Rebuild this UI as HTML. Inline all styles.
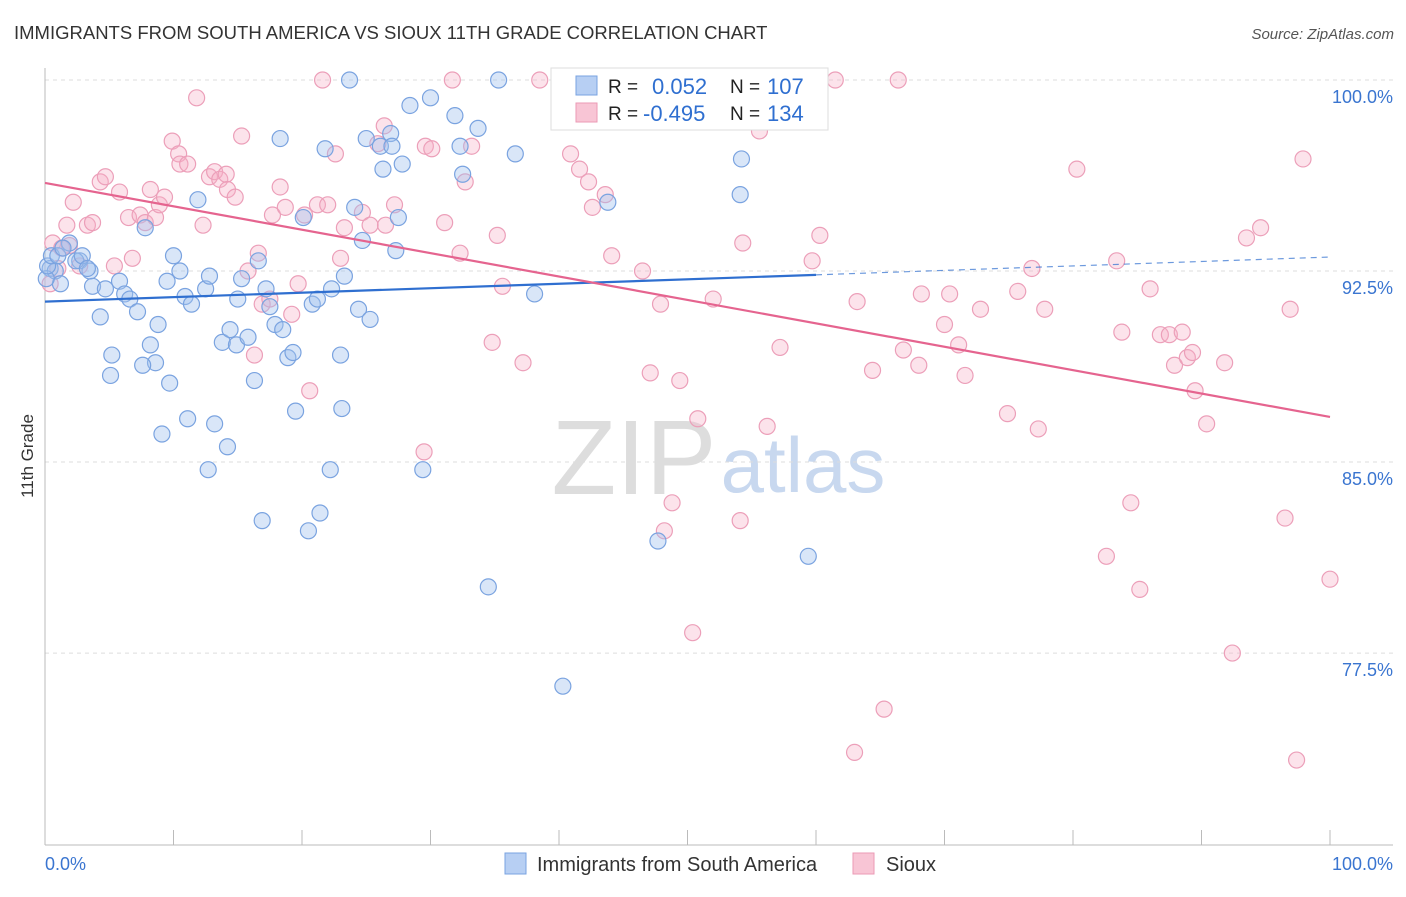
<!DOCTYPE html>
<html><head><meta charset="utf-8"><style>
body{margin:0;background:#fff;font-family:"Liberation Sans",sans-serif;}
svg text{font-family:"Liberation Sans",sans-serif;}
</style></head><body>
<svg id="chart" width="1406" height="892" viewBox="0 0 1406 892">
<text x="14" y="39" font-size="18.5" fill="#333">IMMIGRANTS FROM SOUTH AMERICA VS SIOUX 11TH GRADE CORRELATION CHART</text>
<text x="1394" y="39" font-size="15" fill="#555" font-style="italic" text-anchor="end">Source: ZipAtlas.com</text>
<text transform="translate(33,456) rotate(-90)" font-size="17" fill="#333" text-anchor="middle">11th Grade</text>
<g><text x="634" y="494" font-size="106" font-family="Liberation Serif,serif" fill="#ddd" text-anchor="middle">ZIP</text><text x="803" y="492" font-size="78" fill="#c8d8ef" text-anchor="middle">atlas</text></g>
<g id="grid"></g><g id="axes"></g><g id="pts"></g><g id="trends"></g>
<g>
<rect x="551" y="68" width="277" height="62" fill="#fff" stroke="#ddd"/>
<rect x="576" y="76" width="21" height="19" fill="#b7cff3" stroke="#7aa3e0"/>
<rect x="576" y="103" width="21" height="19" fill="#f8c5d5" stroke="#eb9ab5"/>
<text x="608" y="93" font-size="19" fill="#222">R =</text><text x="652" y="94" font-size="22" fill="#2f6fd0">0.052</text>
<text x="730" y="93" font-size="19" fill="#222">N =</text><text x="767" y="94" font-size="22" fill="#2f6fd0">107</text>
<text x="608" y="120" font-size="19" fill="#222">R =</text><text x="643" y="121" font-size="22" fill="#2f6fd0">-0.495</text>
<text x="730" y="120" font-size="19" fill="#222">N =</text><text x="767" y="121" font-size="22" fill="#2f6fd0">134</text>
</g>
<g>
<rect x="505" y="853" width="21" height="21" fill="#b7cff3" stroke="#7aa3e0"/>
<text x="537" y="871" font-size="20" fill="#333">Immigrants from South America</text>
<rect x="853" y="853" width="21" height="21" fill="#f8c5d5" stroke="#eb9ab5"/>
<text x="886" y="871" font-size="20" fill="#333">Sioux</text>
</g>
</svg>
<script>
const yTicks=[100,92.5,85,77.5];
const yTickLabels=["100.0%","92.5%","85.0%","77.5%"];
const xTicks=[0,10,20,30,40,50,60,70,80,90,100];
const blueX=[0.4,0.8,1.2,1.9,2.7,3.5,3.7,4.3,4.7,5.2,5.1,5.8,6.2,6.6,7.2,7.8,8.2,8.6,7.6,8.8,9.1,9.7,9.5,10.0,10.5,10.9,11.1,11.4,11.9,12.5,12.8,12.7,13.2,13.8,14.2,14.4,14.9,15.0,15.3,15.8,16.3,16.6,16.9,17.2,17.5,17.9,18.3,18.5,18.9,19.3,19.5,20.1,20.5,20.8,21.2,21.4,21.8,22.2,22.3,23.0,23.1,23.3,23.7,24.1,24.4,24.7,25.0,25.3,26.1,26.3,26.9,27.0,27.3,27.5,27.8,28.4,29.4,30.0,31.9,32.3,32.5,33.7,34.5,35.3,36.6,38.1,40.3,43.8,47.7,54.1,54.2,59.4,0.1,0.2,0.5,1.0,1.4,2.4,2.9,3.3];
const blueY=[92.6,92.5,92.0,93.6,92.9,92.5,91.9,90.7,91.8,89.2,88.4,92.1,91.6,91.4,90.9,94.2,89.6,88.9,88.8,90.4,86.1,88.1,92.1,93.1,92.5,91.5,86.7,91.2,95.3,91.8,92.3,84.7,86.5,89.7,85.6,90.2,89.6,91.4,92.2,89.9,88.2,92.9,82.7,91.8,91.1,90.4,97.7,90.2,89.1,89.3,87.0,94.6,82.3,91.2,91.4,83.0,97.3,84.7,91.8,89.2,87.1,92.3,100,95.0,91.0,93.7,97.7,90.6,97.4,96.5,97.9,97.4,93.3,94.6,96.7,99.0,84.7,99.3,98.6,97.4,96.3,98.1,80.1,100,97.1,91.6,76.2,95.2,81.9,95.5,96.9,81.3,92.2,92.7,93.1,93.1,93.4,92.9,93.1,92.6];
const pinkX=[0.4,0.6,1.0,1.3,1.7,1.9,2.2,2.7,3.3,3.7,4.3,4.7,5.4,5.8,6.5,6.8,7.4,7.8,8.2,8.6,8.9,9.3,9.9,10.4,10.5,11.1,11.8,12.3,12.8,13.2,13.6,14.1,14.2,14.8,15.3,15.8,16.3,16.6,16.9,17.5,17.7,18.3,18.7,19.2,19.7,20.2,20.6,21.2,21.6,22.0,22.6,23.0,23.3,24.7,25.3,25.9,26.4,26.5,27.2,29.5,29.6,30.1,31.1,31.7,32.3,32.7,33.2,34.8,35.2,35.6,37.2,38.5,40.9,41.6,42.3,42.6,43.6,44.1,46.5,47.1,47.9,48.2,48.8,49.4,50.4,50.8,52.0,54.1,54.3,55.6,56.2,57.2,58.0,59.7,60.3,61.5,63.0,63.2,64.4,65.3,66.4,66.8,68.0,68.2,70.0,70.4,71.1,71.6,72.8,74.9,75.7,76.8,77.3,77.8,80.3,82.6,83.4,83.8,84.5,85.2,86.0,86.8,87.5,87.9,88.5,88.9,89.3,89.5,90.4,91.8,92.4,93.5,94.6,96.5,96.9,97.4,97.9,100];
const pinkY=[92.0,93.6,92.6,93.4,94.3,93.5,95.2,92.7,94.3,94.4,96.0,96.2,92.7,95.6,94.6,93.0,94.7,94.4,95.7,94.6,95.1,95.4,97.6,97.1,96.7,96.7,99.3,94.3,96.2,96.4,96.1,96.3,95.7,95.4,97.8,92.5,89.2,93.2,91.2,91.4,94.7,95.8,95.0,90.8,92.0,94.7,87.8,95.1,100,95.1,97.1,93.0,94.2,94.8,94.3,97.5,98.2,94.3,95.1,85.4,97.4,97.3,94.4,100,93.2,96.0,97.4,89.7,93.9,91.9,88.9,100,97.1,96.5,96.0,95.0,95.5,93.1,92.5,88.5,91.2,82.3,83.4,88.2,78.3,86.7,91.4,82.7,93.6,98.0,86.4,89.5,98.9,92.9,93.9,100,73.6,91.3,88.6,75.3,100,89.4,88.8,91.6,90.4,91.6,89.6,88.4,91.0,86.9,91.7,92.6,86.3,91.0,96.5,81.3,92.9,90.1,83.4,80.0,91.8,90.0,90.0,88.8,90.1,89.1,89.3,87.8,86.5,88.9,77.5,93.8,94.2,82.8,91.0,73.3,96.9,80.4];
const blueTrend=[91.3,93.05];
const pinkTrend=[95.96,86.77];
const blueSolidEnd=60;

const NS="http://www.w3.org/2000/svg";
const X=v=>45+v*12.85;
const Y=v=>80+(100-v)*25.47;
function mk(tag,attrs,parent){const e=document.createElementNS(NS,tag);for(const k in attrs)e.setAttribute(k,attrs[k]);parent.appendChild(e);return e;}
const grid=document.getElementById('grid'),axes=document.getElementById('axes'),pts=document.getElementById('pts'),tr=document.getElementById('trends');
yTicks.forEach((t,i)=>{
 const l=mk('line',{x1:45,x2:1393,y1:Y(t),y2:Y(t),stroke:'#ddd','stroke-dasharray':'4,4'},grid);
 
 
 const tx=mk('text',{x:1393,y:Y(t)+23,'font-size':18,fill:'#3a75d0','text-anchor':'end'},axes);
 tx.textContent=yTickLabels[i];
 
 
});
const ax=mk('line',{x1:45,x2:1393,y1:845,y2:845,stroke:'#bbb'},axes);


const ay=mk('line',{x1:45,x2:45,y1:68,y2:845,stroke:'#bbb'},axes);


xTicks.forEach(t=>{
 const l=mk('line',{x1:X(t),x2:X(t),y1:830,y2:845,stroke:'#bbb'},axes);
 
 
});
const xl=mk('text',{x:45,y:870,'font-size':18,fill:'#3a75d0'},axes);xl.textContent='0.0%';


const xr=mk('text',{x:1393,y:870,'font-size':18,fill:'#3a75d0','text-anchor':'end'},axes);xr.textContent='100.0%';


pinkX.forEach((x,i)=>{
 const c=mk('circle',{cx:X(x),cy:Y(pinkY[i]),r:8,fill:'rgba(245,175,198,0.35)',stroke:'#ec9fb9','stroke-width':1.2},pts);
 
 
});
blueX.forEach((x,i)=>{
 const c=mk('circle',{cx:X(x),cy:Y(blueY[i]),r:8,fill:'rgba(160,192,238,0.4)',stroke:'#7aa3e0','stroke-width':1.2},pts);
 
 
});
const bAt=x=>blueTrend[0]+(blueTrend[1]-blueTrend[0])*x/100;
const b1=mk('line',{x1:X(0),y1:Y(bAt(0)),x2:X(blueSolidEnd),y2:Y(bAt(blueSolidEnd)),stroke:'#2f6fd0','stroke-width':2.2},tr);


const b2=mk('line',{x1:X(blueSolidEnd),y1:Y(bAt(blueSolidEnd)),x2:X(100),y2:Y(bAt(100)),stroke:'#2f6fd0','stroke-width':1.2,'stroke-dasharray':'6,5',opacity:0.7},tr);


const p1=mk('line',{x1:X(0),y1:Y(pinkTrend[0]),x2:X(100),y2:Y(pinkTrend[1]),stroke:'#e5648f','stroke-width':2.2},tr);


</script>
</body></html>
